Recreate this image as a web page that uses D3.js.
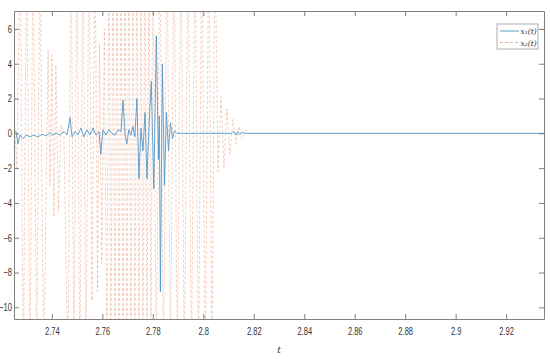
<!DOCTYPE html>
<html>
<head>
<meta charset="utf-8">
<script src="https://cdn.jsdelivr.net/npm/d3@7"></script>
<style>
  body { margin: 0; background: #fff; }
  .tick text { font-family: "Liberation Sans", Arial, sans-serif; font-size: 10.5px; fill: #333; }
</style>
</head>
<body>
<div class="chart"></div>
<script>
// x1(t): small noise, burst around 2.78, then settles
const x1T = [2.7250, 2.7258, 2.7266, 2.7274, 2.7286, 2.7298, 2.7313, 2.7329, 2.7345, 2.7361,
  2.7377, 2.7393, 2.7404, 2.7416, 2.7432, 2.7448, 2.7460, 2.7472, 2.7480, 2.7492,
  2.7503, 2.7515, 2.7527, 2.7539, 2.7551, 2.7563, 2.7575, 2.7587, 2.7594, 2.7602,
  2.7614, 2.7626, 2.7638, 2.7650, 2.7662, 2.7674, 2.7682, 2.7690, 2.7697, 2.7705,
  2.7713, 2.7721, 2.7729, 2.7737, 2.7745, 2.7753, 2.7761, 2.7769, 2.7777, 2.7785,
  2.7794, 2.7804, 2.7814, 2.7822, 2.7826, 2.7830, 2.7838, 2.7846, 2.7854, 2.7862,
  2.7870, 2.7878, 2.7886, 2.7896, 2.8113, 2.8121, 2.8129, 2.8137, 2.8145, 2.8153,
  2.8165, 2.9350];
const x1V = [0.2, 0.1, -0.6, -0.1, -0.3, -0.1, -0.2, -0.1, -0.2, -0.05,
  -0.15, 0.05, -0.1, 0.0, -0.1, 0.1, -0.1, 0.9, -0.2, 0.1,
  -0.1, 0.3, -0.2, 0.2, -0.1, 0.3, -0.1, 0.1, -1.2, 0.2,
  -0.1, 0.2, 0.0, -0.1, 0.2, 0.1, 1.9, -0.1, -0.6, 0.2,
  -0.1, 0.4, -0.2, 2.0, -2.6, 0.3, -1.0, 1.2, -2.6, 0.5,
  3.0, -3.2, 5.6, -1.5, 1.0, -9.1, 4.0, -3.0, 1.2, -1.0,
  0.6, -0.3, 0.15, 0.0, 0.0, 0.12, -0.1, 0.1, -0.08, 0.06,
  0.0, 0.0];

// x2(t): chattering signal, peaks run off the visible range
const x2T = [2.7250, 2.7262, 2.7274, 2.7287, 2.7300, 2.7313, 2.7326, 2.7340, 2.7353, 2.7367,
  2.7385, 2.7393, 2.7400, 2.7408, 2.7416, 2.7426, 2.7436, 2.7448, 2.7464, 2.7476,
  2.7488, 2.7499, 2.7511, 2.7523, 2.7535, 2.7547, 2.7559, 2.7571, 2.7581, 2.7589,
  2.7598, 2.7608, 2.7618, 2.7626, 2.7634, 2.7642, 2.7650, 2.7658, 2.7666, 2.7674,
  2.7682, 2.7690, 2.7697, 2.7705, 2.7713, 2.7721, 2.7729, 2.7737, 2.7745, 2.7753,
  2.7761, 2.7769, 2.7777, 2.7785, 2.7793, 2.7800, 2.7814, 2.7828, 2.7842, 2.7856,
  2.7870, 2.7884, 2.7897, 2.7911, 2.7925, 2.7939, 2.7953, 2.7967, 2.7981, 2.7994,
  2.8008, 2.8022, 2.8034, 2.8046, 2.8058, 2.8070, 2.8082, 2.8093, 2.8105, 2.8117,
  2.8129, 2.8141, 2.8153, 2.8165, 2.8177, 2.9350];
const x2V = [1.0, -2.0, 12, -14, 12, -14, 12, -14, 12, -14,
  4.8, -3.0, 4.5, -4.8, 3.9, -4.5, 0.5, -0.2, -14, 12,
  -14, 12, -14, 12, -14, 12, -9.6, 12, -9.1, 5.2,
  -7.5, 6.0, -14, 12, -14, 12, -14, 12, -14, 12,
  -14, 12, -14, 12, -14, 12, -14, 12, -14, 12,
  -14, 12, -14, 12, -14, 12, -14, 12, -14, 12,
  -14, 12, -14, 12, -14, 12, -14, 12, -14, 12,
  -14, 12, -14, 12, -2.2, 2.1, -2.0, 1.4, -1.2, 0.8,
  -0.6, 0.4, -0.3, 0.15, 0.0, 0.0];

const xTicks = [2.74, 2.76, 2.78, 2.8, 2.82, 2.84, 2.86, 2.88, 2.9, 2.92];
const yTicks = [-10, -8, -6, -4, -2, 0, 2, 4, 6];
const seriesNames = ["x\u2081(t)", "x\u2082(t)"];

const width = 550, height = 359;
const plot = { left: 14, right: 544, top: 11, bottom: 319 };

const svg = d3.select(".chart").append("svg")
    .attr("width", width)
    .attr("height", height);

svg.append("rect").attr("width", width).attr("height", height).attr("fill", "#fff");

const x = d3.scaleLinear().domain([2.725, 2.935]).range([plot.left, plot.right]);
const y = d3.scaleLinear().domain([-10.67, 7.03]).range([plot.bottom, plot.top]);

svg.append("clipPath").attr("id", "clip")
    .append("rect")
    .attr("x", plot.left).attr("y", plot.top)
    .attr("width", plot.right - plot.left).attr("height", plot.bottom - plot.top);

const line = d3.line().x(d => x(d[0])).y(d => y(d[1]));
const g = svg.append("g").attr("clip-path", "url(#clip)");

g.append("path")
    .datum(x2T.map((t, i) => [t, x2V[i]]))
    .attr("d", line)
    .attr("fill", "none")
    .attr("stroke", "#D95319")
    .attr("stroke-opacity", 0.35)
    .attr("stroke-width", 0.8)
    .attr("stroke-dasharray", "3,2");

g.append("path")
    .datum(x1T.map((t, i) => [t, x1V[i]]))
    .attr("d", line)
    .attr("fill", "none")
    .attr("stroke", "#4a94c8")
    .attr("stroke-width", 0.85);

// axes, ticks point inward (box on)
const axisColor = "#808080";
const axBottom = svg.append("g").attr("transform", `translate(0,${plot.bottom})`)
    .call(d3.axisBottom(x).tickValues(xTicks).tickSizeInner(-5).tickSizeOuter(0).tickPadding(9).tickFormat(d3.format("")));
const axTop = svg.append("g").attr("transform", `translate(0,${plot.top})`)
    .call(d3.axisTop(x).tickValues(xTicks).tickSizeInner(-5).tickSizeOuter(0).tickFormat(""));
const axLeft = svg.append("g").attr("transform", `translate(${plot.left},0)`)
    .call(d3.axisLeft(y).tickValues(yTicks).tickSizeInner(-5).tickSizeOuter(0).tickFormat(d3.format("")));
const axRight = svg.append("g").attr("transform", `translate(${plot.right},0)`)
    .call(d3.axisRight(y).tickValues(yTicks).tickSizeInner(-5).tickSizeOuter(0).tickFormat(""));

[axBottom, axTop, axLeft, axRight].forEach(a => {
    a.selectAll("path").attr("stroke", axisColor);
    a.selectAll("line").attr("stroke", axisColor);
});
// condensed look of the tick labels
axBottom.selectAll("text").attr("transform", "scale(0.72,1)");
axLeft.selectAll("text").attr("x", -3).attr("transform", "scale(0.72,1)");

svg.append("text")
    .attr("x", (plot.left + plot.right) / 2)
    .attr("y", 353)
    .attr("text-anchor", "middle")
    .attr("font-family", "DejaVu Serif, serif")
    .attr("font-style", "italic")
    .attr("font-size", 9)
    .attr("fill", "#333")
    .text("t");

// legend
const legend = svg.append("g").attr("transform", "translate(497,24)");
legend.append("rect")
    .attr("width", 41).attr("height", 25)
    .attr("fill", "#fff").attr("stroke", "#999").attr("stroke-width", 0.8);
const rows = [
    { stroke: "#4a94c8", dash: null, op: 1 },
    { stroke: "#D95319", dash: "3,2", op: 0.5 }
];
rows.forEach((r, i) => {
    const yy = 7 + i * 11.5;
    legend.append("line")
        .attr("x1", 3).attr("x2", 22).attr("y1", yy).attr("y2", yy)
        .attr("stroke", r.stroke).attr("stroke-opacity", r.op)
        .attr("stroke-width", 0.9).attr("stroke-dasharray", r.dash);
    legend.append("text")
        .attr("x", 23.5).attr("y", yy + 3)
        .attr("font-family", "DejaVu Serif, serif")
        .attr("font-style", "italic")
        .attr("font-size", 7.5)
        .attr("fill", "#333")
        .text(seriesNames[i]);
});
</script>
</body>
</html>
